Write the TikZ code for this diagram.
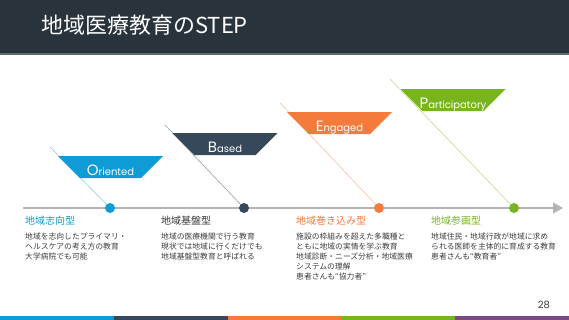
\documentclass[tikz,border=0pt]{standalone}
\usepackage{fontspec}
\setmainfont{Noto Sans CJK JP}
\newfontfamily\latinfont{Poppins}
\usepackage{xcolor}
\usepackage{tikz}
\usetikzlibrary{arrows.meta,positioning,shapes.geometric}

\definecolor{titlebg}{HTML}{29333B}
\definecolor{titleline}{HTML}{5D6A73}
\definecolor{cblue}{HTML}{0E9BD6}
\definecolor{cdark}{HTML}{35495A}
\definecolor{corange}{HTML}{F47B3C}
\definecolor{cgreen}{HTML}{78B41E}
\definecolor{cpurple}{HTML}{7A4A84}
\definecolor{bodygray}{HTML}{3C3C3C}
\definecolor{linegray}{HTML}{B4B4B4}

\newcommand{\biginit}[2]{\makebox[0pt]{{\fontsize{15}{15}\selectfont #1}{\fontsize{10}{10}\selectfont #2}}}

\begin{document}
\begin{tikzpicture}[
  x=1pt, y=-1pt,
  tag/.style={trapezium, trapezium angle=45, shape border rotate=180, minimum height=22pt,
    text width=61pt, align=center, inner sep=0pt, text=white, font=\latinfont, text height=19pt, text depth=3pt},
  dot/.style={circle, minimum size=10pt, inner sep=0pt},
  guide/.style={line width=0.5pt},
  timeline/.style={draw=linegray, line width=1.6pt, -{Triangle[length=10pt, width=11pt]}},
  head/.style={anchor=west, inner sep=0pt, font=\fontsize{10}{12}\selectfont},
  body/.style={align=left, inner sep=0pt, text=bodygray, font=\fontsize{7.8}{10}\selectfont},
]
\useasboundingbox (0,0) rectangle (569,320);
% ---------------- title bar ----------------
\fill[titlebg] (0,0) rectangle (569,53);
\fill[titleline] (0,53) rectangle (569,55);
\node[anchor=west, inner sep=0pt, text=white, font=\fontsize{22}{24}\selectfont] (title) at (41,25) {地域医療教育のSTEP};

% ---------------- timeline ----------------
\coordinate (tl-start) at (23,208);
\coordinate (tl-end) at (563,208);
\draw[timeline] (tl-start) -- (tl-end);

\node[dot, fill=cblue] (d1) at (110,208) {};
\node[dot, fill=cdark] (d2) at (244,208) {};
\node[dot, fill=corange] (d3) at (379,208) {};
\node[dot, fill=cgreen] (d4) at (514,208) {};

\coordinate (s1) at (50,147);
\coordinate (s2) at (165,125);
\coordinate (s3) at (280,103);
\coordinate (s4) at (390,79);
\draw[guide, cblue!55] (s1) -- (d1);
\draw[guide, cdark!60] (s2) -- (d2);
\draw[guide, corange!55] (s3) -- (d3);
\draw[guide, cgreen!55] (s4) -- (d4);

\node[tag, fill=cblue, anchor=north] (t1) at (110.5,156) {\biginit{O}{riented}};
\node[tag, fill=cdark, anchor=north] (t2) at (225,133) {\biginit{B}{ased}};
\node[tag, fill=corange, anchor=north] (t3) at (339.5,112) {\biginit{E}{ngaged}};
\node[tag, fill=cgreen, anchor=north] (t4) at (453,89) {\biginit{P}{articipatory}};

% ---------------- descriptions ----------------
\node[head, text=cblue] (h1) at (25,221) {地域志向型};
\node[head, text=bodygray!90!black] (h2) at (161,221) {地域基盤型};
\node[head, text=corange] (h3) at (296,221) {地域巻き込み型};
\node[head, text=cgreen] (h4) at (431,221) {地域参画型};

\node[body, below right=7pt and 0pt of h1.south west] (b1)
  {地域を志向したプライマリ・\\ヘルスケアの考え方の教育\\大学病院でも可能};
\node[body, below right=7pt and 0pt of h2.south west] (b2)
  {地域の医療機関で行う教育\\現状では地域に行くだけでも\\地域基盤型教育と呼ばれる};
\node[body, below right=7pt and 0pt of h3.south west] (b3)
  {施設の枠組みを超えた多職種と\\ともに地域の実情を学ぶ教育\\地域診断・ニーズ分析・地域医療\\システムの理解\\患者さんも“協力者”};
\node[body, below right=7pt and 0pt of h4.south west] (b4)
  {地域住民・地域行政が地域に求め\\られる医師を主体的に育成する教育\\患者さんも“教育者”};

% ---------------- footer ----------------
\node[inner sep=0pt, text=bodygray, font=\latinfont\fontsize{10}{12}\selectfont] (page) at (544,305) {28};
\foreach \c [count=\i from 0] in {cblue,cdark,corange,cgreen,cpurple}
  \fill[\c] (\i*113.8,316) rectangle ++(113.8,4);
\end{tikzpicture}
\end{document}
